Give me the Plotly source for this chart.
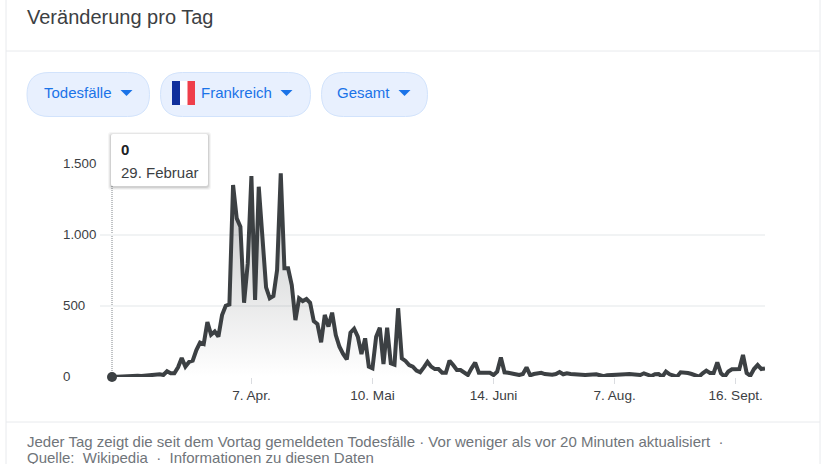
import plotly.graph_objects as go

deaths = [
    0, 2, 2, 2, 5, 7, 9, 9, 7, 9,
    12, 16, 16, 19, 14, 40, 26, 26, 68, 134,
    73, 106, 115, 190, 242, 232, 387, 298, 321, 284,
    436, 502, 511, 1352, 1117, 1058, 523, 800, 1415, 542,
    1340, 988, 631, 554, 570, 753, 1434, 765, 765, 648,
    401, 554, 535, 549, 523, 394, 373, 244, 437, 355,
    453, 296, 213, 162, 124, 312, 340, 284, 162, 272,
    73, 61, 284, 347, 92, 347, 96, 87, 484, 131,
    113, 84, 73, 45, 33, 68, 106, 73, 56, 56,
    30, 30, 115, 84, 49, 49, 33, 14, 61, 101,
    30, 30, 30, 30, 14, 38, 138, 33, 30, 21,
    19, 14, 21, 68, 12, 21, 26, 30, 21, 16,
    16, 21, 35, 19, 26, 21, 19, 12, 12, 14,
    16, 19, 19, 12, 5, 12, 12, 14, 16, 19,
    19, 21, 21, 19, 14, 26, 14, 7, 19, 21,
    2, 38, 19, 7, 2, 33, 33, 28, 21, 14,
    2, 26, 45, 28, 28, 103, 26, 2, 38, 54,
    54, 56, 155, 28, 9, 56, 84, 56, 61,
]
report_index = list(range(len(deaths)))
x_tick_index = [38, 71, 104, 137, 170]
x_tick_labels = ["7. Apr.", "10. Mai", "14. Juni", "7. Aug.", "16. Sept."]
y_tick_values = [0, 500, 1000, 1500]
y_tick_labels = ["0", "500", "1.000", "1.500"]

W, H = 824, 464
L, R, T, B = 100, 765, 164, 377
FONT = "Liberation Sans, Arial, sans-serif"
INK = "#3c4043"
BLUE = "#1a73e8"


def px(x):
    return (x - L) / (R - L)


def py(y):
    return (B - y) / (B - T)


def rect_path(x0, y0, x1, y1, r):
    a, b, c, d = px(x0), px(x1), py(y0), py(y1)
    rx, ry = r / (R - L), r / (B - T)
    return (f"M {a+rx},{c} L {b-rx},{c} Q {b},{c} {b},{c-ry} L {b},{d+ry} Q {b},{d} {b-rx},{d} "
            f"L {a+rx},{d} Q {a},{d} {a},{d+ry} L {a},{c-ry} Q {a},{c} {a+rx},{c} Z")


def path_shape(path, fill, line=None, layer="above", opacity=1):
    return dict(type="path", xref="paper", yref="paper", path=path, fillcolor=fill,
                line=dict(color=line or "rgba(0,0,0,0)", width=1 if line else 0),
                layer=layer, opacity=opacity)


def line_shape(x0, y0, x1, y1, color="#e8eaed"):
    return dict(type="line", xref="paper", yref="paper", x0=px(x0), x1=px(x1), y0=py(y0), y1=py(y1),
                line=dict(color=color, width=1), layer="below")


def label(x, y, text, size=15, color=INK, anchor="left", valign="middle", yref_data=False):
    return dict(xref="paper", yref="y" if yref_data else "paper", x=px(x), y=y if yref_data else py(y),
                text=text, showarrow=False, xanchor=anchor, yanchor=valign,
                font=dict(family=FONT, size=size, color=color), xshift=-2, yshift=1, align="left")


def caret(cx, cy):
    p = f"M {px(cx-6)},{py(cy-3)} L {px(cx+6)},{py(cy-3)} L {px(cx)},{py(cy+3)} Z"
    return path_shape(p, BLUE)


fig = go.Figure()
fig.add_trace(go.Scatter(
    x=report_index, y=deaths, mode="lines",
    line=dict(color=INK, width=4, shape="linear"),
    fill="tozeroy",
    fillgradient=dict(type="vertical", start=0, stop=1100,
                      colorscale=[[0, "rgba(60,64,67,0)"], [1, "rgba(60,64,67,0.24)"]]),
    hoverinfo="skip", cliponaxis=False,
))
fig.add_trace(go.Scatter(
    x=report_index[:1], y=deaths[:1], mode="markers",
    marker=dict(color=INK, size=10), hoverinfo="skip", cliponaxis=False,
))

shapes = [
    line_shape(6, 0, 6, 464), line_shape(820, 0, 820, 464),
    line_shape(6, 51, 820, 51), line_shape(6, 422, 820, 422),
    dict(type="line", xref="x", yref="paper", x0=0, x1=0, y0=py(377), y1=py(186),
         line=dict(color="#80868b", width=1, dash="1px,1px"), layer="below"),
]
for x0, x1 in [(27, 149.5), (160.5, 310.5), (321.5, 427.5)]:
    shapes.append(path_shape(rect_path(x0, 72.5, x1, 116.5, 22), "#e8f0fe", "#d2e3fc"))
shapes += [caret(126.5, 93), caret(286.5, 93), caret(404.5, 93)]
shapes += [
    path_shape(rect_path(172, 81, 195, 105, 3), "#ffffff"),
    path_shape(f"M {px(172)},{py(81)} H {px(180)} V {py(105)} H {px(172)} Z", "#0f2f9c"),
    path_shape(f"M {px(187.5)},{py(81)} H {px(195)} V {py(105)} H {px(187.5)} Z", "#ef3e4a"),
]
for grow, alpha in [(3, 0.04), (2, 0.06), (1, 0.09)]:
    shapes.append(path_shape(rect_path(111 - grow, 134 - grow + 1, 208 + grow, 186 + grow + 1, 3),
                             f"rgba(0,0,0,{alpha})"))
shapes.append(path_shape(rect_path(111, 134, 208, 186, 2), "#ffffff"))

annotations = [
    label(27, 18, "Veränderung pro Tag", size=20),
    label(43.5, 93.5, "Todesfälle", color=BLUE),
    label(201, 93.5, "Frankreich", color=BLUE),
    label(337, 93.5, "Gesamt", color=BLUE),
    label(121, 150, "<b>0</b>", color="#202124"),
    label(121, 173, "29. Februar"),
    label(27, 442, "Jeder Tag zeigt die seit dem Vortag gemeldeten Todesfälle · Vor weniger als vor 20 Minuten aktualisiert  ·", color="#70757a"),
    label(27, 458, "Quelle:  Wikipedia  ·  Informationen zu diesen Daten", color="#70757a"),
]
for v, t in zip(y_tick_values, y_tick_labels):
    annotations.append(label(63, v, t, size=13.3, yref_data=True))

fig.update_layout(
    width=W, height=H,
    margin=dict(l=L, r=W - R, t=T, b=H - B, pad=0),
    paper_bgcolor="#ffffff", plot_bgcolor="#ffffff",
    showlegend=False, hovermode=False,
    shapes=shapes, annotations=annotations,
    font=dict(family=FONT, size=13, color=INK),
    xaxis=dict(range=[-12 / 3.667, len(deaths) - 1], tickmode="array", tickvals=x_tick_index,
               ticktext=x_tick_labels, ticks="outside", ticklen=6, tickcolor="#dadce0", tickwidth=1,
               showgrid=False, zeroline=False, showline=False,
               tickfont=dict(family=FONT, size=13.6, color=INK)),
    yaxis=dict(range=[0, 1500], tickmode="array", tickvals=y_tick_values, showticklabels=False,
               ticks="", showgrid=True, gridcolor="#f1f3f4", gridwidth=1.5, zeroline=False, showline=False),
)

fig.write_html("out.html", config=dict(displayModeBar=False, staticPlot=True),
               post_script="document.body.style.margin='0';document.body.style.overflow='hidden';")
